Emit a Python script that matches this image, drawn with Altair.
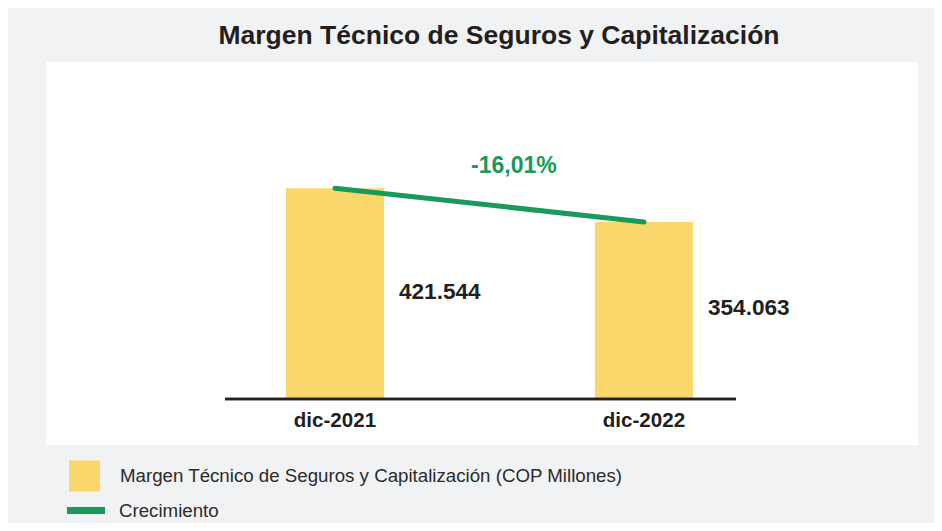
import altair as alt
import pandas as pd

# ---- data ----
categorias = ["dic-2021", "dic-2022"]
valores = [421544, 354063]
etiquetas_valor = ["421.544", "354.063"]
serie_barras = "Margen Técnico de Seguros y Capitalización (COP Millones)"
serie_linea = "Crecimiento"
titulo = "Margen Técnico de Seguros y Capitalización"

# ---- styling ----
YELLOW = "#FAD76B"
GREEN = "#179A5A"
DARK = "#231F20"
BG = "#F1F2F4"
FONT = "Liberation Sans"

crec = (valores[1] / valores[0] - 1) * 100
crec_txt = f"{crec:.2f}%".replace(".", ",")

df = pd.DataFrame({
    "cat": categorias,
    "valor": valores,
    "cero": [0] * len(categorias),
    "etq": etiquetas_valor,
    "mid": [v / 2 for v in valores],
    "serie": [serie_barras] * len(categorias),
    "serie2": [serie_linea] * len(categorias),
})
gdf = pd.DataFrame({"cat": [categorias[0]], "valor": [valores[0]], "txt": [crec_txt]})

xscale = alt.Scale(domain=categorias, paddingInner=0.683, paddingOuter=0.7525, align=0.516)
yscale = alt.Scale(domain=[-92000, 674000], nice=False, zero=False)

X = alt.X("cat:N", scale=xscale, axis=None)

base = alt.Chart(df)

bars = base.mark_bar().encode(
    x=X,
    y=alt.Y("valor:Q", scale=yscale, axis=None),
    fill=alt.Fill("serie:N", scale=alt.Scale(range=[YELLOW]),
                  legend=alt.Legend(orient="none", legendX=23, legendY=398.5, title=None,
                                    symbolType="square", symbolSize=961, symbolStrokeWidth=0,
                                    labelOffset=20, padding=0, labelFont=FONT, labelFontSize=18.7,
                                    labelColor="#2B2B2B", labelLimit=800)),
)

axis_rule = base.mark_rule(color=DARK, strokeWidth=2.5).encode(
    y=alt.Y("cero:Q", scale=yscale, axis=None), x=alt.value(179), x2=alt.value(690)
)

line = base.mark_line(strokeWidth=5, strokeCap="round").encode(
    x=X,
    y=alt.Y("valor:Q", scale=yscale, axis=None),
    stroke=alt.Stroke("serie2:N", scale=alt.Scale(range=[GREEN]),
                      legend=alt.Legend(orient="none", legendX=17.5, legendY=426, title=None,
                                        symbolType="stroke", symbolSize=1444, symbolStrokeWidth=7,
                                        labelOffset=10.5, padding=0, labelFont=FONT, labelFontSize=18.7,
                                        labelColor="#2B2B2B", labelLimit=800)),
)

val_labels = base.mark_text(align="left", baseline="middle", dx=64, dy=-2, fontSize=22.6,
                            fontWeight="bold", font=FONT, color=DARK).encode(
    x=X, y=alt.Y("mid:Q", scale=yscale, axis=None), text="etq:N"
)

x_labels = base.mark_text(align="center", baseline="middle", dy=22, fontSize=20.6,
                          fontWeight="bold", font=FONT, color=DARK).encode(
    x=X, y=alt.Y("cero:Q", scale=yscale, axis=None), text="cat:N"
)

growth = alt.Chart(gdf).mark_text(align="center", baseline="middle", dx=179, dy=-22,
                                  fontSize=23, fontWeight="bold", font=FONT, color=GREEN).encode(
    x=X, y=alt.Y("valor:Q", scale=yscale, axis=None), text="txt:N"
)

chart = alt.layer(bars, axis_rule, line, val_labels, x_labels, growth).properties(
    width=872, height=383,
    title=alt.TitleParams(titulo, fontSize=26.5, font=FONT, fontWeight="bold", color=DARK,
                          anchor="middle", dx=17, dy=26, baseline="alphabetic", offset=18),
    background=BG,
    padding={"left": 38, "top": 54, "right": 16, "bottom": 78},
    autosize=alt.AutoSizeParams(type="none"),
).configure_view(fill="white", strokeWidth=0)

chart.save("out.html", embed_options={"renderer": "svg", "actions": False})
